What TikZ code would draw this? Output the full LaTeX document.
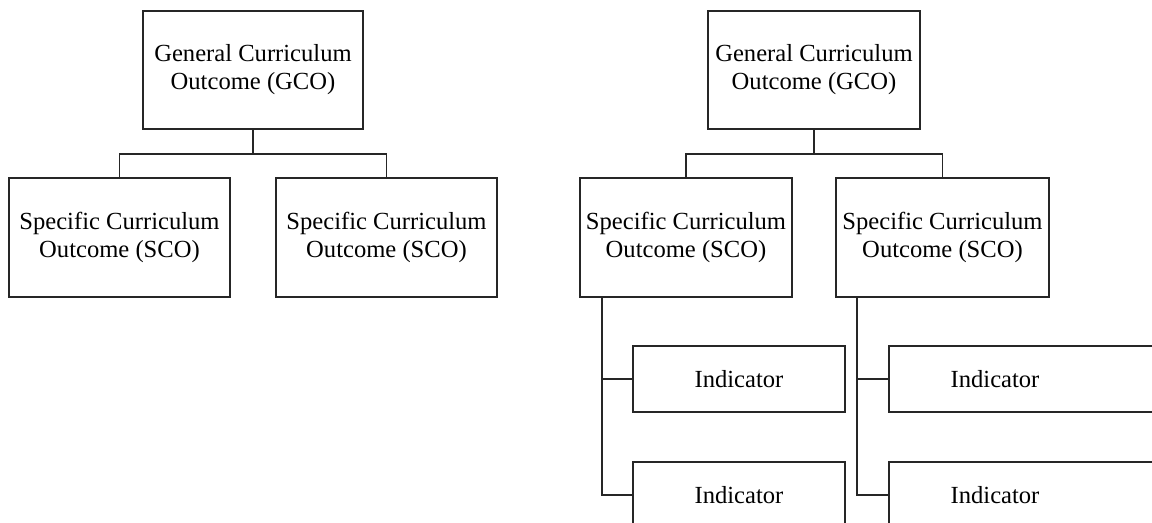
\documentclass[tikz,border=0pt]{standalone}
\usepackage{fontspec}
\setmainfont{Liberation Serif}
\usetikzlibrary{positioning, calc}

\begin{document}
\begin{tikzpicture}[
    x=0.02cm, y=-0.02cm,
    line width=1.1pt,
    outbox/.style={rectangle, draw=black!85, line width=1.1pt, align=center, inner sep=0pt,
        font=\fontsize{14}{16}\selectfont},
    gcobox/.style={outbox, minimum width=220*0.02cm, minimum height=118*0.02cm},
    scobox/.style={outbox, minimum width=221*0.02cm, minimum height=119*0.02cm},
    indbox/.style={outbox, minimum width=212*0.02cm, minimum height=66*0.02cm},
    link/.style={draw=black!85, line width=1.1pt}
]
\useasboundingbox (0,0) rectangle (1152,523);
\clip (0,0) rectangle (1152,523);

% left tree
\node[gcobox] (gcoL) at (253,70) {General Curriculum\\Outcome (GCO)};
\node[scobox] (scoL1) at (119.5,237.5) {Specific Curriculum\\Outcome (SCO)};
\node[scobox] (scoL2) at (386.5,237.5) {Specific Curriculum\\Outcome (SCO)};

% right tree
\node[gcobox, minimum width=212*0.02cm] (gcoR) at (814,70) {General Curriculum\\Outcome (GCO)};
\node[scobox, minimum width=212*0.02cm] (scoR1) at (686,237.5) {Specific Curriculum\\Outcome (SCO)};
\node[scobox, minimum width=213*0.02cm] (scoR2) at (942.5,237.5) {Specific Curriculum\\Outcome (SCO)};

% indicators
\node[indbox] (ind1) at (739,379) {Indicator};
\node[indbox] (ind2) at (739,495) {Indicator};
\node[indbox, minimum width=281*0.02cm] (ind3) at (1029.5,379) {};
\node[indbox, minimum width=281*0.02cm] (ind4) at (1029.5,495) {};
\node[outbox, draw=none] (ind3txt) at (995,379) {Indicator};
\node[outbox, draw=none] (ind4txt) at (995,495) {Indicator};

% connectors
\coordinate (jL) at (253,154);
\coordinate (jR) at (814,154);
\draw[link] (gcoL.south) -- (jL);
\draw[link] (scoL1.north) |- (jL) -| (scoL2.north);
\draw[link] (gcoR.south) -- (jR);
\draw[link] (scoR1.north) |- (jR) -| (scoR2.north);

\coordinate (bR1) at (602,297);
\coordinate (bR2) at (857,297);
\draw[link] (bR1) |- (ind2.west);
\draw[link] (bR1 |- ind1.west) -- (ind1.west);
\draw[link] (bR2) |- (ind4.west);
\draw[link] (bR2 |- ind3.west) -- (ind3.west);

\end{tikzpicture}
\end{document}
